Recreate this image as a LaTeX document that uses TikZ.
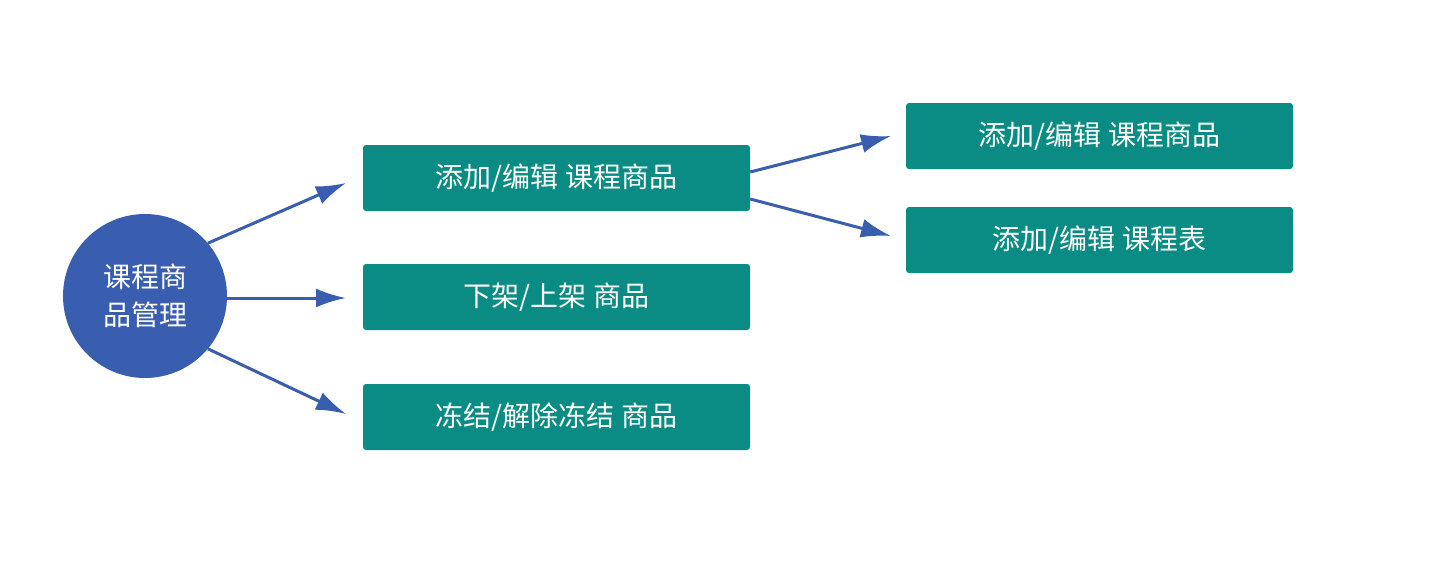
\documentclass[tikz,border=0pt]{standalone}
\usepackage{fontspec}
\setmainfont{Noto Sans CJK SC}
\usepackage{tikz}
\usetikzlibrary{arrows.meta,calc}
\definecolor{cblue}{HTML}{3A5EAF}
\definecolor{cteal}{HTML}{0A8C84}

\begin{document}
\begin{tikzpicture}[x=1pt,y=-1pt,
  hub/.style={circle,fill=cblue,minimum size=164pt,inner sep=0pt,text=white,
    align=center,font=\fontsize{28}{38}\selectfont},
  task/.style={rectangle,rounded corners=3pt,fill=cteal,minimum width=387pt,
    minimum height=66pt,inner sep=0pt,text=white,font=\fontsize{28}{30}\selectfont},
  link/.style={cblue,line width=3pt,-{Latex[length=30pt,width=19pt]}}]
\useasboundingbox (0,0) rectangle (1436,560);
% centre node
\node[hub] (hub) at (145,296) {课程商\\品管理};
% first column
\node[task] (add) at (556.5,178) {添加/编辑 课程商品};
\node[task] (shelf) at (556.5,297) {下架/上架 商品};
\node[task] (freeze) at (556.5,417) {冻结/解除冻结 商品};
% second column
\node[task] (addgoods) at (1099.5,136) {添加/编辑 课程商品};
\node[task] (addtable) at (1099.5,240) {添加/编辑 课程表};
% arrow ends
\coordinate (t1) at (346,183);
\coordinate (t2) at (346,298);
\coordinate (t3) at (346,414);
\coordinate (s1) at ($(add.east)+(0,-6)$);
\coordinate (s2) at ($(add.east)+(0,21)$);
\coordinate (t4) at (891,136);
\coordinate (t5) at (891,236);
\draw[link] (hub.40) -- (t1);
\draw[link] (hub.east |- t2) -- (t2);
\draw[link] (hub.-40) -- (t3);
\draw[link] (s1) -- (t4);
\draw[link] (s2) -- (t5);
\end{tikzpicture}
\end{document}
